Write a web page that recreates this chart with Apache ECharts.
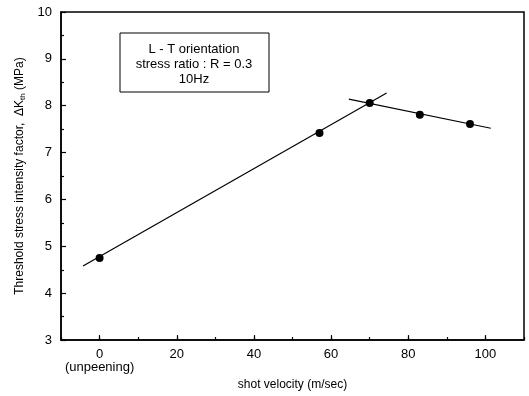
<!DOCTYPE html>
<html>
<head>
<meta charset="utf-8">
<script src="https://cdn.jsdelivr.net/npm/echarts@6/dist/echarts.min.js"></script>
<style>
  html, body { margin: 0; padding: 0; background: #fff; }
  #chart { width: 529px; height: 396px; }
</style>
</head>
<body>
<div id="chart"></div>
<script>
// measured points
const velocity = [0, 57, 70, 83, 96]
const deltaK = [4.75, 7.42, 8.06, 7.81, 7.61]
// fitted lines (endpoints)
const fitRising = [[-4.3, 4.58], [74.4, 8.27]]
const fitFalling = [[64.6, 8.14], [101.4, 7.52]]
const xTicks = [0, 20, 40, 60, 80, 100]
const noteLines = ['L - T orientation', 'stress ratio : R = 0.3', '10Hz']

const font = 'Liberation Sans, Arial, sans-serif'

const myChart = echarts.init(document.getElementById('chart'))
const option = {
  animation: false,
  textStyle: { fontFamily: font },
  grid: {
    left: 61, right: 5, top: 12, bottom: 51,
    show: true, borderColor: '#000', borderWidth: 1.5, backgroundColor: 'transparent'
  },
  xAxis: [{
    type: 'value',
    min: -10,
    max: 110,
    interval: 10,
    name: 'shot velocity (m/sec)',
    nameLocation: 'middle',
    nameGap: 31,
    nameTextStyle: { color: '#000', fontSize: 12, fontFamily: font },
    axisLine: { show: true, onZero: false, lineStyle: { color: '#000', width: 1.5 } },
    axisTick: { show: true, inside: true, length: 5, customValues: xTicks, lineStyle: { color: '#000', width: 1.2 } },
    axisLabel: {
      customValues: xTicks,
      color: '#000', fontSize: 13, fontFamily: font, margin: 8, lineHeight: 13,
      formatter: v => v === 0 ? '0\n(unpeening)' : String(v)
    },
    splitLine: { show: false }
  }, {
    // 小刻度 每10一个
    type: 'value',
    position: 'bottom',
    min: -10,
    max: 110,
    interval: 10,
    axisLine: { show: false, onZero: false },
    axisTick: { show: true, inside: true, length: 3, lineStyle: { color: '#000', width: 1.2 } },
    axisLabel: { show: false },
    splitLine: { show: false }
  }],
  yAxis: {
    type: 'value',
    min: 3,
    max: 10,
    interval: 1,
    name: '{n|Threshold stress intensity factor,  ΔK}{s|th}{n| (MPa)}',
    nameLocation: 'middle',
    nameGap: 32,
    nameTextStyle: {
      rich: {
        n: { color: '#000', fontSize: 12, fontFamily: font, fontStyle: 'normal' },
        s: { color: '#000', fontSize: 8, fontFamily: font, fontStyle: 'normal', verticalAlign: 'bottom', padding: [6, 0, 0, 0] }
      }
    },
    axisLine: { show: true, onZero: false, lineStyle: { color: '#000', width: 1.5 } },
    axisTick: { show: true, inside: true, length: 5, lineStyle: { color: '#000', width: 1.2 } },
    minorTick: { show: true, splitNumber: 2, length: 3, lineStyle: { color: '#000', width: 1.2 } },
    axisLabel: { color: '#000', fontSize: 13, fontFamily: font, margin: 9 },
    splitLine: { show: false }
  },
  graphic: [{
    type: 'rect',
    shape: { x: 120, y: 33, width: 149, height: 59 },
    style: { fill: '#fff', stroke: '#000', lineWidth: 1 },
    z: 10
  }, {
    type: 'text',
    x: 194, y: 42,
    style: {
      text: noteLines.join('\n'),
      fill: '#000', font: '13px ' + font, align: 'center', verticalAlign: 'top', lineHeight: 15
    },
    z: 11
  }],
  series: [{
    type: 'line',
    data: fitRising,
    showSymbol: false,
    lineStyle: { color: '#000', width: 1.2 },
    silent: true
  }, {
    type: 'line',
    data: fitFalling,
    showSymbol: false,
    lineStyle: { color: '#000', width: 1.2 },
    silent: true
  }, {
    type: 'scatter',
    data: velocity.map((v, i) => [v, deltaK[i]]),
    symbol: 'circle',
    symbolSize: 8,
    itemStyle: { color: '#000', opacity: 1 },
    z: 5
  }]
}
myChart.setOption(option)
</script>
</body>
</html>
